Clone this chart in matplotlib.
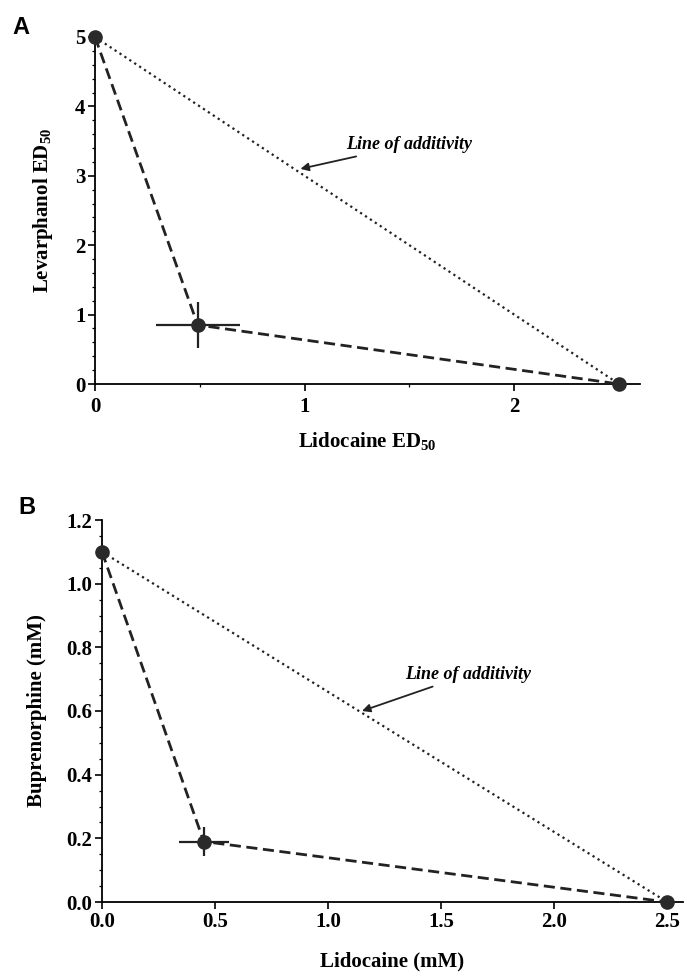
import matplotlib
matplotlib.use('Agg')
import matplotlib.pyplot as plt
from matplotlib.ticker import MultipleLocator, AutoMinorLocator

# ---------------- data ----------------
# panel A : levorphanol / lidocaine ED50 isobologram
a_x = [0.0, 0.49, 2.5]
a_y = [5.0, 0.85, 0.0]
a_xerr = 0.2
a_yerr = 0.33
a_add_x = [0.0, 2.5]
a_add_y = [5.0, 0.0]

# panel B : buprenorphine / lidocaine (mM)
b_x = [0.0, 0.45, 2.5]
b_y = [1.1, 0.19, 0.0]
b_xerr = 0.11
b_yerr = 0.045
b_add_x = [0.0, 2.5]
b_add_y = [1.1, 0.0]

a_xticks = [0, 1, 2]
a_yticks = [0, 1, 2, 3, 4, 5]
b_xticks = [0.0, 0.5, 1.0, 1.5, 2.0, 2.5]
b_yticks = [0.0, 0.2, 0.4, 0.6, 0.8, 1.0, 1.2]

plt.rcParams['font.family'] = ['Liberation Serif', 'DejaVu Serif']
plt.rcParams['font.weight'] = 'bold'
plt.rcParams['mathtext.fontset'] = 'custom'
plt.rcParams['mathtext.rm'] = 'Liberation Serif:bold'
plt.rcParams['mathtext.it'] = 'Liberation Serif:bold:italic'
plt.rcParams['mathtext.bf'] = 'Liberation Serif:bold'

W, H = 687, 976
fig = plt.figure(figsize=(W / 100, H / 100), dpi=100)


def style(ax, size):
    for s in ['top', 'right']:
        ax.spines[s].set_visible(False)
    for s in ['left', 'bottom']:
        ax.spines[s].set_linewidth(1.3)
    ax.tick_params(which='major', direction='out', length=5, width=1.2,
                   labelsize=size, pad=2)
    ax.tick_params(which='minor', direction='out', length=2.5, width=0.9)
    for lb in ax.get_xticklabels() + ax.get_yticklabels():
        lb.set_fontweight('bold')


def draw(ax, x, y, xerr, yerr, add_x, add_y):
    ax.plot(add_x, add_y, ':', color='#222222', lw=1.6, clip_on=False, zorder=2)
    ax.plot(x, y, '--', color='#222222', lw=2.0, dashes=(4, 2), clip_on=False, zorder=3)
    ax.errorbar([x[1]], [y[1]], xerr=xerr, yerr=yerr, fmt='none',
                ecolor='#222222', elinewidth=1.6, capsize=0, zorder=4)
    ax.plot(x, y, 'o', color='#2a2a2a', ms=9.5, clip_on=False, zorder=5)


# ---- panel A ----
axA = fig.add_axes([95 / W, 1 - 384 / H, (640 - 95) / W, (384 - 37) / H])
draw(axA, a_x, a_y, a_xerr, a_yerr, a_add_x, a_add_y)
axA.set_xlim(0, 2.6)
axA.set_ylim(0, 5)
axA.set_xticks(a_xticks)
axA.set_yticks(a_yticks)
axA.xaxis.set_minor_locator(MultipleLocator(0.5))
axA.yaxis.set_minor_locator(AutoMinorLocator())
style(axA, 15)
axA.tick_params(axis='x', pad=4)
axA.set_xlabel('Lidocaine ED$_{50}$', fontsize=15, fontweight='bold', labelpad=10)
axA.set_ylabel('Levarphanol ED$_{50}$', fontsize=15, fontweight='bold', labelpad=14)
axA.annotate('Line of additivity', xy=(0.98, 3.1), xytext=(1.2, 3.45),
             fontsize=13, fontstyle='italic', fontweight='bold', va='center',
             arrowprops=dict(arrowstyle='-|>', color='#222222', lw=1.3,
                             mutation_scale=12, shrinkA=2, shrinkB=0))
fig.text(12 / W, 1 - 28 / H, 'A', fontsize=17, fontweight='bold',
         family='Liberation Sans', va='center', ha='left')

# ---- panel B ----
axB = fig.add_axes([102 / W, 1 - 902 / H, (683 - 102) / W, (902 - 520) / H])
draw(axB, b_x, b_y, b_xerr, b_yerr, b_add_x, b_add_y)
axB.set_xlim(0, 2.57)
axB.set_ylim(0, 1.2)
axB.set_xticks(b_xticks)
axB.set_yticks(b_yticks)
axB.xaxis.set_major_formatter(matplotlib.ticker.FormatStrFormatter('%.1f'))
axB.yaxis.set_major_formatter(matplotlib.ticker.FormatStrFormatter('%.1f'))
axB.yaxis.set_minor_locator(AutoMinorLocator())
style(axB, 15)
axB.set_xlabel('Lidocaine (mM)', fontsize=15, fontweight='bold', labelpad=14)
axB.set_ylabel('Buprenorphine (mM)', fontsize=15, fontweight='bold', labelpad=14)
axB.annotate('Line of additivity', xy=(1.15, 0.6), xytext=(1.34, 0.715),
             fontsize=13, fontstyle='italic', fontweight='bold', va='center',
             arrowprops=dict(arrowstyle='-|>', color='#222222', lw=1.3,
                             mutation_scale=12, shrinkA=2, shrinkB=0))
fig.text(18 / W, 1 - 507 / H, 'B', fontsize=17, fontweight='bold',
         family='Liberation Sans', va='center', ha='left')

fig.savefig('out.png', dpi=100)
